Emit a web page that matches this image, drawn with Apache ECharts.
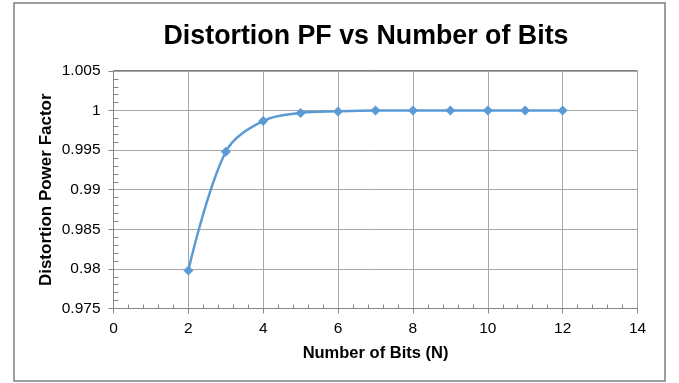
<!DOCTYPE html>
<html>
<head>
<meta charset="utf-8">
<script src="https://cdn.jsdelivr.net/npm/echarts@6/dist/echarts.min.js"></script>
<style>
html,body{margin:0;padding:0;background:#fff;}
#chart{width:679px;height:383px;}
</style>
</head>
<body>
<div id="chart"></div>
<script>
// Number of bits and the resulting distortion power factor
const bits = [2, 3, 4, 5, 6, 7, 8, 9, 10, 11, 12];
const distortionPF = [0.9798, 0.9948, 0.9987, 0.9997, 0.9999, 1.0, 1.0, 1.0, 1.0, 1.0, 1.0];
const yTickLabels = { 0.975: '0.975', 0.98: '0.98', 0.985: '0.985', 0.99: '0.99', 0.995: '0.995', 1: '1', 1.005: '1.005' };

const font = 'Liberation Sans, Arial, sans-serif';
const chart = echarts.init(document.getElementById('chart'), null, { renderer: 'canvas' });

chart.setOption({
  animation: false,
  backgroundColor: '#fff',
  title: {
    text: 'Distortion PF vs Number of Bits',
    left: 361, top: 18, textAlign: 'center',
    textStyle: { fontFamily: font, fontWeight: 'bold', fontSize: 26.8, color: '#000' }
  },
  grid: { left: 113.5, right: 41.5, top: 71, bottom: 74.5, show: true, borderColor: '#000', borderWidth: 1 },
  graphic: [{
    type: 'rect', silent: true,
    shape: { x: 14, y: 3, width: 651, height: 378 },
    style: { fill: 'none', stroke: '#7f7f7f', lineWidth: 1.5 }
  }],
  xAxis: {
    type: 'value', min: 0, max: 14, interval: 2,
    name: 'Number of Bits (N)', nameLocation: 'middle', nameGap: 36,
    nameTextStyle: { fontFamily: font, fontWeight: 'bold', fontSize: 16.5, color: '#000' },
    axisLine: { show: true, onZero: false, lineStyle: { color: '#868686', width: 1 } },
    axisTick: { show: true, length: 5, lineStyle: { color: '#868686' } },
    minorTick: { show: true, splitNumber: 5, length: -4, lineStyle: { color: '#868686' } },
    axisLabel: { margin: 12, fontFamily: font, fontSize: 15.5, color: '#000' },
    splitLine: { show: true, lineStyle: { color: '#a6a6a6', width: 1 } }
  },
  yAxis: {
    type: 'value', min: 0.975, max: 1.005, interval: 0.005,
    name: 'Distortion Power Factor', nameLocation: 'middle', nameGap: 59, nameMoveOverlap: false,
    nameTextStyle: { fontFamily: font, fontWeight: 'bold', fontSize: 17, color: '#000' },
    axisLine: { show: true, lineStyle: { color: '#868686', width: 1 } },
    axisTick: { show: true, length: 5, lineStyle: { color: '#868686' } },
    minorTick: { show: true, splitNumber: 5, length: -5, lineStyle: { color: '#868686' } },
    axisLabel: {
      margin: 13, fontFamily: font, fontSize: 15.5, color: '#000',
      formatter: v => yTickLabels[Math.round(v * 1000) / 1000] ?? ''
    },
    splitLine: { show: true, lineStyle: { color: '#a6a6a6', width: 1 } }
  },
  series: [{
    type: 'line',
    data: bits.map((b, i) => [b, distortionPF[i]]),
    smooth: 0.35,
    symbol: 'diamond', symbolSize: 10,
    lineStyle: { color: '#5b9bd5', width: 2.5 },
    itemStyle: { color: '#5b9bd5' }
  }]
});
</script>
</body>
</html>
